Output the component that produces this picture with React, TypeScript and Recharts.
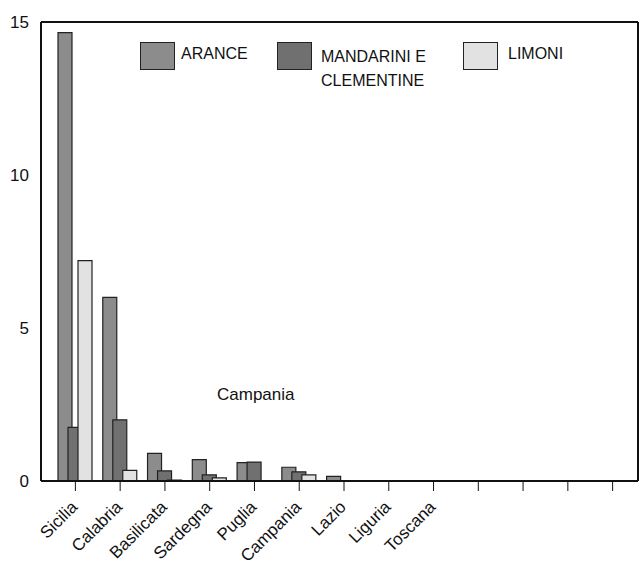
import React from "react";
import { BarChart, Bar, XAxis, YAxis, CartesianGrid, ReferenceLine } from "recharts";

const regions: string[] = [
    "Sicilia", "Calabria", "Basilicata", "Sardegna", "Puglia", "Campania",
    "Lazio", "Liguria", "Toscana", "", " ", "  ", "   ",
];
const arance: number[] = [14.65, 6.0, 0.9, 0.7, 0.6, 0.45, 0.15, 0, 0, 0, 0, 0, 0];
const mandarini: number[] = [1.75, 2.0, 0.33, 0.2, 0.62, 0.3, 0, 0, 0, 0, 0, 0, 0];
const limoni: number[] = [7.2, 0.35, 0.03, 0.1, 0, 0.2, 0, 0, 0, 0, 0, 0, 0];
const yTicks: number[] = [0, 5, 10, 15];

const font = "'Liberation Sans', Arial, sans-serif";

const data = regions.map((r, i) => ({
    region: r,
    arance: arance[i],
    mandarini: mandarini[i],
    limoni: limoni[i],
}));

// rotated category labels, ending at the tick
const RegionTick = (props: any) => {
    const { x, y, payload } = props;
    return (
        <text x={x + 3} y={y + 15} textAnchor="end" fontSize={17} fill="#111" fontFamily={font}
            transform={`rotate(-45, ${x + 3}, ${y + 15})`}>
            {payload.value.trim()}
        </text>
    );
};

const Swatch = ({ color }: { color: string }) => (
    <div style={{ width: 35, height: 28, background: color, border: "1.5px solid #222", boxSizing: "border-box" }} />
);

const App: React.FC = () => {
    return (
        <div style={{ position: "absolute", left: 0, top: 0, width: 640, height: 565, background: "#fff", fontFamily: font }}>
            <BarChart width={640} height={565} data={data} margin={{ top: 22, right: 0, bottom: 0, left: 0 }}
                barSize={14} barGap={-4}>
                <CartesianGrid vertical={false} stroke="#777" strokeWidth={1} />
                <XAxis dataKey="region" interval={0} padding={{ left: 12, right: 3 }} height={84}
                    axisLine={{ stroke: "#111", strokeWidth: 2 }} tickLine={{ stroke: "#111" }} tickSize={10}
                    tick={<RegionTick />} />
                <YAxis yAxisId="left" domain={[0, 15]} ticks={yTicks} width={41} tickLine={false}
                    axisLine={{ stroke: "#111", strokeWidth: 2 }}
                    tick={{ fill: "#111", fontSize: 17, fontFamily: font, dx: -4 }} />
                <YAxis yAxisId="right" orientation="right" domain={[0, 15]} width={2} tick={false} tickLine={false}
                    axisLine={{ stroke: "#111", strokeWidth: 2 }} />
                <ReferenceLine yAxisId="left" y={15} stroke="#111" strokeWidth={2} />
                <Bar yAxisId="left" dataKey="arance" fill="#8c8c8c" stroke="#222" strokeWidth={1.2} isAnimationActive={false} />
                <Bar yAxisId="left" dataKey="mandarini" fill="#707070" stroke="#222" strokeWidth={1.2} isAnimationActive={false} />
                <Bar yAxisId="left" dataKey="limoni" fill="#e2e2e2" stroke="#222" strokeWidth={1.2} isAnimationActive={false} />
            </BarChart>

            {/* stray label left on the chart */}
            <div style={{ position: "absolute", left: 217, top: 385, fontSize: 17, color: "#111" }}>Campania</div>

            {/* legend */}
            <div style={{ position: "absolute", left: 140, top: 42, display: "flex", alignItems: "flex-start", fontSize: 16, color: "#111" }}>
                <Swatch color="#8c8c8c" />
                <div style={{ marginLeft: 6, marginTop: 3, width: 96 }}>ARANCE</div>
                <Swatch color="#707070" />
                <div style={{ marginLeft: 9, marginTop: 3, width: 142, lineHeight: "24px" }}>
                    MANDARINI E<br />CLEMENTINE
                </div>
                <Swatch color="#e2e2e2" />
                <div style={{ marginLeft: 10, marginTop: 3 }}>LIMONI</div>
            </div>
        </div>
    );
};

export default App;
